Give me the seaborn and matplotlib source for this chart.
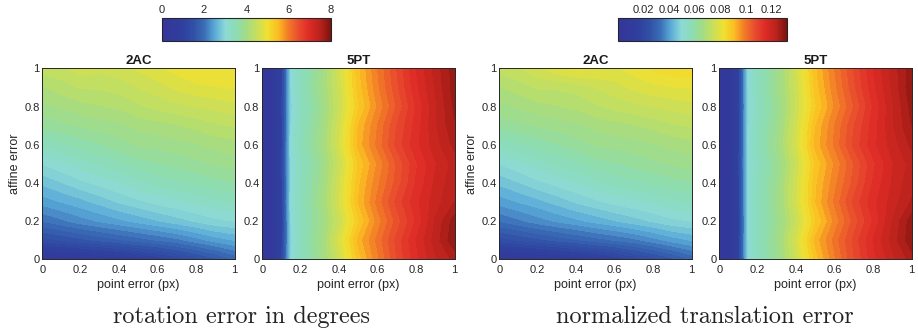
import numpy as np
import matplotlib
matplotlib.use("Agg")
import matplotlib.pyplot as plt
from matplotlib.colors import Normalize
from matplotlib.cm import ScalarMappable
import seaborn as sns

# grids: point error (x) and affine error (y)
point_err_2ac = [0.0, 0.1, 0.2, 0.3, 0.4, 0.5, 0.6, 0.7, 0.8, 0.9, 1.0]
point_err_5pt = [0.0, 0.05, 0.1, 0.15, 0.2, 0.3, 0.4, 0.5, 0.6, 0.7, 0.8, 0.9, 1.0]
affine_err = [0.0, 0.1, 0.2, 0.3, 0.4, 0.5, 0.6, 0.7, 0.8, 0.9, 1.0]

# rotation error (degrees), rows = affine error, cols = point error
rot_2ac = [
    [0.40, 0.45, 0.52, 0.60, 0.70, 0.85, 1.00, 1.20, 1.40, 1.60, 1.85],
    [1.40, 1.50, 1.60, 1.70, 1.80, 1.90, 2.00, 2.10, 2.25, 2.40, 2.50],
    [2.00, 2.12, 2.25, 2.35, 2.45, 2.55, 2.65, 2.75, 2.85, 2.95, 3.00],
    [2.40, 2.50, 2.60, 2.72, 2.85, 2.95, 3.05, 3.12, 3.20, 3.28, 3.35],
    [2.70, 2.82, 2.95, 3.05, 3.15, 3.28, 3.38, 3.45, 3.52, 3.60, 3.65],
    [3.00, 3.12, 3.25, 3.35, 3.45, 3.58, 3.65, 3.72, 3.78, 3.85, 3.90],
    [3.35, 3.45, 3.55, 3.65, 3.75, 3.85, 3.88, 3.92, 3.98, 4.05, 4.10],
    [3.70, 3.78, 3.85, 3.90, 3.95, 4.05, 4.10, 4.15, 4.22, 4.30, 4.35],
    [3.95, 4.02, 4.10, 4.15, 4.20, 4.30, 4.38, 4.45, 4.50, 4.55, 4.60],
    [4.15, 4.25, 4.35, 4.35, 4.40, 4.50, 4.60, 4.70, 4.78, 4.82, 4.85],
    [4.40, 4.45, 4.60, 4.55, 4.60, 4.70, 4.80, 4.90, 5.00, 5.00, 5.00],
]
rot_5pt = [
    [0.40, 0.45, 1.05, 3.00, 3.35, 3.85, 4.55, 5.40, 5.95, 6.50, 6.95, 7.30, 7.55],
    [0.40, 0.45, 1.00, 2.95, 3.35, 3.90, 4.70, 5.55, 6.05, 6.55, 7.00, 7.40, 7.80],
    [0.40, 0.50, 0.95, 3.00, 3.35, 3.85, 4.50, 5.30, 5.90, 6.40, 6.85, 7.35, 7.75],
    [0.40, 0.45, 1.00, 3.05, 3.35, 3.90, 4.65, 5.50, 6.05, 6.55, 6.95, 7.25, 7.50],
    [0.40, 0.45, 1.00, 3.00, 3.35, 3.85, 4.60, 5.45, 5.95, 6.40, 6.85, 7.20, 7.45],
    [0.40, 0.45, 1.10, 3.00, 3.30, 3.80, 4.50, 5.35, 5.85, 6.35, 6.80, 7.15, 7.40],
    [0.40, 0.45, 1.00, 3.05, 3.40, 3.90, 4.65, 5.55, 6.05, 6.55, 6.95, 7.25, 7.55],
    [0.40, 0.45, 1.00, 3.00, 3.35, 3.85, 4.60, 5.50, 6.00, 6.50, 6.90, 7.30, 7.65],
    [0.40, 0.45, 1.05, 2.95, 3.30, 3.80, 4.50, 5.30, 5.85, 6.35, 6.85, 7.30, 7.70],
    [0.40, 0.45, 1.00, 3.00, 3.35, 3.90, 4.55, 5.40, 5.95, 6.45, 6.95, 7.35, 7.75],
    [0.40, 0.45, 1.00, 3.00, 3.35, 3.85, 4.60, 5.45, 6.00, 6.50, 7.00, 7.40, 7.75],
]

# normalized translation error
trans_2ac = [
    [0.0066, 0.0074, 0.0086, 0.0099, 0.0116, 0.0140, 0.0165, 0.0198, 0.0231, 0.0264, 0.0305],
    [0.0231, 0.0248, 0.0264, 0.0281, 0.0297, 0.0314, 0.0330, 0.0347, 0.0371, 0.0396, 0.0413],
    [0.0330, 0.0350, 0.0371, 0.0388, 0.0404, 0.0421, 0.0437, 0.0454, 0.0470, 0.0487, 0.0495],
    [0.0396, 0.0413, 0.0429, 0.0449, 0.0470, 0.0487, 0.0503, 0.0515, 0.0528, 0.0541, 0.0553],
    [0.0446, 0.0465, 0.0487, 0.0503, 0.0520, 0.0541, 0.0558, 0.0569, 0.0581, 0.0594, 0.0602],
    [0.0495, 0.0515, 0.0536, 0.0553, 0.0569, 0.0591, 0.0602, 0.0614, 0.0624, 0.0635, 0.0644],
    [0.0553, 0.0569, 0.0586, 0.0602, 0.0619, 0.0635, 0.0640, 0.0647, 0.0657, 0.0668, 0.0677],
    [0.0611, 0.0624, 0.0635, 0.0644, 0.0652, 0.0668, 0.0677, 0.0685, 0.0696, 0.0710, 0.0718],
    [0.0652, 0.0663, 0.0677, 0.0685, 0.0693, 0.0710, 0.0723, 0.0734, 0.0743, 0.0751, 0.0759],
    [0.0685, 0.0701, 0.0718, 0.0718, 0.0726, 0.0743, 0.0759, 0.0776, 0.0789, 0.0795, 0.0800],
    [0.0726, 0.0740, 0.0765, 0.0790, 0.0805, 0.0800, 0.0792, 0.0810, 0.0830, 0.0845, 0.0850],
]
trans_5pt = [
    [0.0066, 0.0074, 0.0170, 0.0490, 0.0550, 0.0630, 0.0750, 0.0890, 0.0985, 0.1070, 0.1145, 0.1200, 0.1250],
    [0.0066, 0.0074, 0.0165, 0.0495, 0.0555, 0.0640, 0.0770, 0.0915, 0.1000, 0.1080, 0.1155, 0.1220, 0.1285],
    [0.0066, 0.0078, 0.0160, 0.0495, 0.0550, 0.0630, 0.0740, 0.0875, 0.0970, 0.1055, 0.1130, 0.1210, 0.1280],
    [0.0066, 0.0074, 0.0165, 0.0500, 0.0555, 0.0640, 0.0765, 0.0905, 0.0995, 0.1080, 0.1145, 0.1195, 0.1240],
    [0.0066, 0.0074, 0.0165, 0.0495, 0.0553, 0.0635, 0.0760, 0.0900, 0.0980, 0.1055, 0.1130, 0.1185, 0.1230],
    [0.0066, 0.0074, 0.0180, 0.0495, 0.0545, 0.0625, 0.0745, 0.0885, 0.0965, 0.1045, 0.1120, 0.1180, 0.1220],
    [0.0066, 0.0074, 0.0165, 0.0500, 0.0560, 0.0645, 0.0770, 0.0915, 0.0995, 0.1080, 0.1145, 0.1195, 0.1245],
    [0.0066, 0.0074, 0.0165, 0.0495, 0.0553, 0.0635, 0.0760, 0.0905, 0.0990, 0.1070, 0.1140, 0.1205, 0.1265],
    [0.0066, 0.0074, 0.0170, 0.0490, 0.0545, 0.0625, 0.0745, 0.0875, 0.0965, 0.1045, 0.1130, 0.1205, 0.1275],
    [0.0066, 0.0074, 0.0165, 0.0495, 0.0553, 0.0640, 0.0750, 0.0890, 0.0980, 0.1065, 0.1145, 0.1215, 0.1285],
    [0.0066, 0.0074, 0.0165, 0.0495, 0.0553, 0.0635, 0.0760, 0.0900, 0.0990, 0.1075, 0.1155, 0.1220, 0.1280],
]

rot_ticks = [0, 2, 4, 6, 8]
trans_ticks = [0.02, 0.04, 0.06, 0.08, 0.1, 0.12]
trans_ticklabels = ["0.02", "0.04", "0.06", "0.08", "0.1", "0.12"]
axis_ticks = [0, 0.2, 0.4, 0.6, 0.8, 1]
axis_ticklabels = ["0", "0.2", "0.4", "0.6", "0.8", "1"]

sns.set_theme(style="white")
plt.rcParams["font.family"] = ["Liberation Sans", "DejaVu Sans"]

cmap = sns.blend_palette([
    "#35349a", "#323a9c", "#2f409e", "#3150a6", "#3a6cb6", "#5aaad8",
    "#8cdad6", "#8cdcb4", "#a2dc84", "#c8df5c", "#f0e030", "#fbbe22",
    "#f27a28", "#e84a2e", "#dc2a26", "#ba221c", "#7c1410"], as_cmap=True)

fig = plt.figure(figsize=(9.18, 3.33), dpi=100)

panels = [
    (0.0461, point_err_2ac, rot_2ac, "2AC", 8.0, True),
    (0.2857, point_err_5pt, rot_5pt, "5PT", 8.0, False),
    (0.5439, point_err_2ac, trans_2ac, "2AC", 0.132, True),
    (0.7836, point_err_5pt, trans_5pt, "5PT", 0.132, False),
]
tick_fs = 8
label_fs = 9
for left, xs, z, title, vmax, ylab in panels:
    ax = fig.add_axes([left, 0.2213, 0.2095, 0.5736])
    norm = Normalize(0, vmax)
    levels = np.linspace(0, vmax, 49)
    cs = ax.contourf(xs, affine_err, np.array(z), levels=levels, cmap=cmap, norm=norm)
    cs.set_edgecolor("face")
    cs.set_linewidth(0.3)
    ax.set_xlim(0, 1)
    ax.set_ylim(0, 1)
    ax.set_xticks(axis_ticks)
    ax.set_xticklabels(axis_ticklabels)
    ax.set_yticks(axis_ticks)
    ax.set_yticklabels(axis_ticklabels)
    ax.tick_params(direction="in", top=True, right=True, length=3, width=0.6,
                   labelsize=tick_fs, colors="#262626", pad=2)
    ax.tick_params(axis="x", pad=4)
    for s in ax.spines.values():
        s.set_color("#262626")
        s.set_linewidth(0.7)
    ax.set_title(title, fontsize=9.5, fontweight="bold", pad=3, color="#1a1a1a")
    ax.set_xlabel("point error (px)", fontsize=label_fs, labelpad=3, color="#262626")
    if ylab:
        ax.set_ylabel("affine error", fontsize=label_fs, labelpad=2, color="#262626")

# colorbars on top
for left, vmax, ticks, labels in [(0.1761, 8.0, rot_ticks, [str(t) for t in rot_ticks]),
                                   (0.6729, 0.132, trans_ticks, trans_ticklabels)]:
    cax = fig.add_axes([left, 0.8769, 0.1845, 0.0691])
    sm = ScalarMappable(norm=Normalize(0, vmax), cmap=cmap)
    cb = fig.colorbar(sm, cax=cax, orientation="horizontal")
    cb.set_ticks(ticks)
    cb.set_ticklabels(labels)
    cax.xaxis.set_ticks_position("top")
    cax.tick_params(direction="in", length=2, width=0.6, labelsize=tick_fs,
                    colors="#262626", pad=2)
    cb.outline.set_edgecolor("#262626")
    cb.outline.set_linewidth(0.8)

fig.text(0.2633, 0.048, "rotation error in degrees", family="cmr10",
         fontsize=17.5, ha="center", va="center", color="#222222")
fig.text(0.768, 0.048, "normalized translation error", family="cmr10",
         fontsize=17.5, ha="center", va="center", color="#222222")

fig.savefig("out.png", dpi=100)
plt.close(fig)
